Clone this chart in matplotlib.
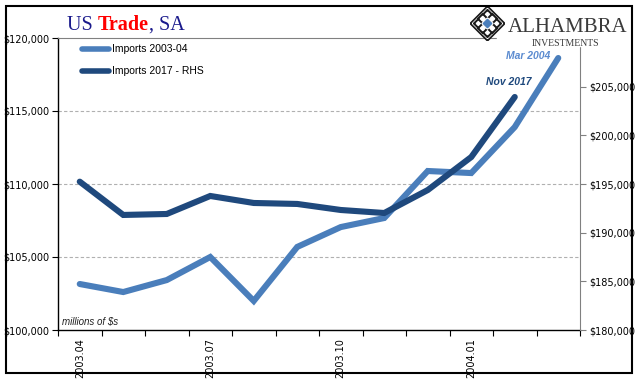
# -*- coding: utf-8 -*-
"""US Trade, SA - imports 2003-04 vs 2017 (twin axis line chart)."""
import matplotlib
matplotlib.use("Agg")
import matplotlib.pyplot as plt
from matplotlib.patches import Polygon, Rectangle
from matplotlib.ticker import FixedLocator, FuncFormatter

W, H = 641, 381

# Months of the 2003-04 window (2017 series shares the same slots)
months = ["2003.04", "2003.05", "2003.06", "2003.07", "2003.08", "2003.09",
          "2003.10", "2003.11", "2003.12", "2004.01", "2004.02", "2004.03"]
imports_2003 = [103150, 102600, 103420, 105000, 101990, 105690,
                107050, 107670, 110890, 110750, 113900, 118630]
imports_2017 = [195240, 191820, 191920, 193770, 193050, 192950,
                192330, 192020, 194380, 197770, 203940]

LIGHT = "#4a7ebb"
DARK = "#1f497d"
GRID = "#b0b0b0"

left_ticks = [100000, 105000, 110000, 115000, 120000]
right_ticks = [180000, 185000, 190000, 195000, 200000, 205000]


def px(x, y):
    """Pixel (from top-left) to figure fraction."""
    return x / W, 1 - y / H


def dollars(v, pos):
    return "${:,.0f}".format(v)


def diamond(cx, cy, r):
    return [(cx, cy + r), (cx + r, cy), (cx, cy - r), (cx - r, cy)]


fig = plt.figure(figsize=(W / 100, H / 100), dpi=100)
ax = fig.add_axes([58 / W, 1 - 330 / H, (580 - 58) / W, (330 - 38) / H])
ax2 = ax.twinx()

n = len(months)
ax.plot(range(len(imports_2003)), imports_2003, color=LIGHT, lw=4.4,
        solid_capstyle="round", solid_joinstyle="miter", zorder=3)
ax2.plot(range(len(imports_2017)), imports_2017, color=DARK, lw=4.4,
         solid_capstyle="round", solid_joinstyle="miter", zorder=3)

ax.set_xlim(-0.5, n - 0.5)
ax.set_ylim(100000, 120000)
ax2.set_ylim(180000, 210000)

# gridlines on the left scale
for v in left_ticks[1:-1]:
    ax.axhline(v, color=GRID, lw=0.8, ls=(0, (3, 2)), zorder=1)

# axes styling
ax.set_yticks(left_ticks)
ax.yaxis.set_major_formatter(FuncFormatter(dollars))
ax2.set_yticks(right_ticks)
ax2.yaxis.set_major_formatter(FuncFormatter(dollars))

ax.xaxis.set_major_locator(FixedLocator([i - 0.5 for i in range(n + 1)]))
ax.xaxis.set_major_formatter(FuncFormatter(lambda v, p: ""))
ax.xaxis.set_minor_locator(FixedLocator(range(0, n, 3)))
ax.xaxis.set_minor_formatter(FuncFormatter(lambda v, p: months[int(round(v))]))
ax.tick_params(axis="x", which="major", direction="out", length=4,
               width=0.8, color="black")
ax.tick_params(axis="x", which="minor", length=0, labelsize=7,
               labelrotation=90, pad=6)
ax.tick_params(axis="y", direction="out", length=4, width=0.8,
               labelsize=7, pad=2)
ax2.tick_params(axis="y", direction="out", length=4, width=0.8,
                color="#808080", labelsize=7, pad=3)

for s in ["left", "bottom"]:
    ax.spines[s].set_color("black")
    ax.spines[s].set_linewidth(1)
ax.spines["right"].set_visible(False)
ax.spines["top"].set_color("#808080")
ax2.spines["left"].set_visible(False)
ax2.spines["bottom"].set_visible(False)
ax2.spines["top"].set_visible(False)
ax2.spines["right"].set_color("#808080")

for lab in ax.get_yticklabels() + ax2.get_yticklabels() + ax.get_xticklabels(minor=True):
    lab.set_family("DejaVu Sans")

# legend drawn by hand, Excel style
for yy, c, lab in [(49, LIGHT, "Imports 2003-04"), (71, DARK, "Imports 2017 - RHS")]:
    x0, y0 = px(82, yy)
    x1, _ = px(109, yy)
    fig.add_artist(plt.Line2D([x0, x1], [y0, y0], color=c, lw=4,
                              solid_capstyle="round"))
    fig.text(px(112, yy)[0], y0, lab, fontsize=7.5, family="Liberation Sans",
             va="center", ha="left")

# annotations
fig.text(*px(528, 56), "Mar 2004", color="#5b8bd0", fontsize=7.5,
         fontweight="bold", style="italic", family="Liberation Sans",
         ha="center", va="center")
fig.text(*px(509, 82), "Nov 2017", color=DARK, fontsize=7.5,
         fontweight="bold", style="italic", family="Liberation Sans",
         ha="center", va="center")
fig.text(*px(62, 325), "millions of $s", fontsize=7, style="italic",
         family="Liberation Sans", ha="left", va="baseline", color="#202020")

# title in three colours
renderer = fig.canvas.get_renderer()
tx, ty = px(67, 30)
for part, c, wt in [("US ", "#1a1a8c", "normal"), ("Trade", "#ff0000", "bold"),
                    (", SA", "#1a1a8c", "normal")]:
    t = fig.text(tx, ty, part, color=c, fontsize=14.5, fontweight=wt,
                 family="Liberation Serif", ha="left", va="baseline")
    bb = t.get_window_extent(renderer)
    tx = bb.x1 / W

# logo block (white backing hides the grid/axis under it)
fig.add_artist(Rectangle(px(497, 46), (631 - 497) / W, 40 / H,
                         transform=fig.transFigure, color="white", zorder=5))
lax = fig.add_axes([470 / W, 1 - 41 / H, 35 / W, 35 / H], zorder=6)
lax.set_xlim(-1, 1)
lax.set_ylim(-1, 1)
lax.axis("off")
lax.add_patch(Polygon(diamond(0, 0, 1.0), closed=True, color="#1a1a1a"))
lax.add_patch(Polygon(diamond(0, 0, 0.86), closed=True, color="white"))
# lattice: small black diamonds around the centre
for cx, cy in [(0, 0.5), (0.5, 0), (0, -0.5), (-0.5, 0),
               (0.27, 0.27), (0.27, -0.27), (-0.27, 0.27), (-0.27, -0.27)]:
    lax.add_patch(Polygon(diamond(cx, cy, 0.3), closed=True, color="#1a1a1a"))
    lax.add_patch(Polygon(diamond(cx, cy, 0.14), closed=True, color="white"))
lax.add_patch(Polygon(diamond(0, 0, 0.32), closed=True, color="white"))
lax.add_patch(Polygon(diamond(0, 0, 0.24), closed=True, color="#4a7ebb"))
fig.text(*px(508, 32), "ALHAMBRA", fontsize=15, family="Liberation Serif",
         color="#3a3a3a", ha="left", va="baseline", zorder=7)
fig.text(*px(566, 44), "INVESTMENTS", fontsize=7, family="Liberation Serif",
         color="#3a3a3a", ha="center", va="center", zorder=7)

# outer black frame
fig.add_artist(Rectangle(px(5.5, 373), (632 - 5.5) / W, (373 - 5.5) / H,
                         transform=fig.transFigure, fill=False,
                         edgecolor="black", lw=1.5, zorder=10))

fig.savefig("out.png", dpi=100)
